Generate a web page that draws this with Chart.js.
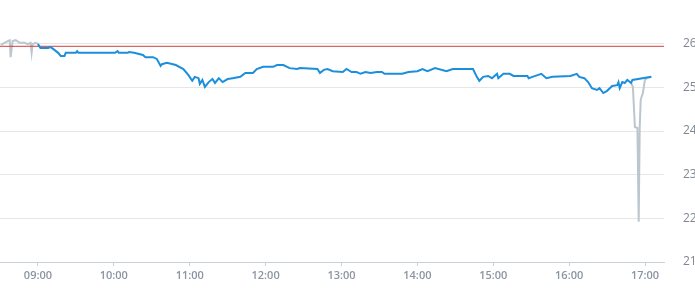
<!DOCTYPE html>
<html>
<head>
<meta charset="utf-8">
<script src="https://cdn.jsdelivr.net/npm/chart.js@4/dist/chart.umd.min.js"></script>
<style>
    body { margin: 0; background: #fff; }
    #wrap { width: 695px; height: 300px; }
</style>
</head>
<body>
<div id="wrap"><canvas id="priceChart"></canvas></div>
<script>
// intraday price (main session)
const priceTimes = ["09:00", "09:02", "09:08", "09:10", "09:12", "09:16", "09:18", "09:21", "09:22", "09:30",
    "09:31", "09:32", "10:01", "10:03", "10:04", "10:11", "10:12", "10:16", "10:23", "10:25",
    "10:31", "10:34", "10:37", "10:38", "10:42", "10:49", "10:55", "10:59", "11:02", "11:04",
    "11:07", "11:08", "11:10", "11:12", "11:15", "11:18", "11:20", "11:23", "11:26", "11:30",
    "11:34", "11:40", "11:44", "11:50", "11:53", "11:58", "12:06", "12:09", "12:14", "12:19",
    "12:25", "12:27", "12:41", "12:43", "12:46", "12:49", "12:53", "13:01", "13:04", "13:08",
    "13:12", "13:15", "13:19", "13:23", "13:28", "13:32", "13:34", "13:48", "13:53", "14:00",
    "14:04", "14:08", "14:14", "14:23", "14:28", "14:44", "14:47", "14:49", "14:52", "14:56",
    "14:59", "15:03", "15:04", "15:08", "15:13", "15:16", "15:27", "15:28", "15:31", "15:38",
    "15:42", "15:47", "16:01", "16:06", "16:08", "16:12", "16:15", "16:18", "16:22", "16:24",
    "16:27", "16:30", "16:34", "16:38", "16:39", "16:40", "16:42", "16:44", "16:46", "16:49",
    "16:50", "16:58", "17:05"];
const priceValues = [25.99, 25.90, 25.90, 25.92, 25.88, 25.79, 25.72, 25.72, 25.79, 25.79,
    25.83, 25.79, 25.79, 25.83, 25.79, 25.79, 25.81, 25.79, 25.74, 25.69,
    25.69, 25.65, 25.49, 25.53, 25.56, 25.51, 25.42, 25.28, 25.15, 25.24,
    25.21, 25.08, 25.17, 25.01, 25.12, 25.19, 25.10, 25.21, 25.12, 25.19,
    25.21, 25.24, 25.33, 25.33, 25.42, 25.47, 25.47, 25.51, 25.51, 25.44,
    25.42, 25.44, 25.42, 25.33, 25.40, 25.42, 25.37, 25.35, 25.42, 25.35,
    25.35, 25.31, 25.35, 25.33, 25.35, 25.35, 25.31, 25.31, 25.35, 25.37,
    25.42, 25.37, 25.44, 25.37, 25.42, 25.42, 25.24, 25.15, 25.24, 25.26,
    25.21, 25.31, 25.21, 25.31, 25.31, 25.26, 25.26, 25.21, 25.24, 25.31,
    25.21, 25.24, 25.26, 25.31, 25.24, 25.21, 25.12, 24.98, 24.94, 24.98,
    24.87, 24.92, 25.03, 25.05, 25.12, 24.98, 25.12, 25.10, 25.17, 25.10,
    25.17, 25.21, 25.24];

// pre-market and closing auction (grey)
const preTimes = ["08:30:36", "08:33:42", "08:36:06", "08:37:42", "08:38:24", "08:40:00", "08:42:24", "08:45:36",
    "08:49:30", "08:51:54", "08:54:12", "08:55:00", "08:55:48", "08:58:12", "09:00:36"];
const preValues = [25.97, 26.02, 26.06, 26.08, 25.69, 26.06, 26.08, 26.02,
    26.02, 25.99, 26.02, 25.79, 25.99, 26.02, 25.99];
const postTimes = ["16:49:00", "16:50:24", "16:52:00", "16:54:00", "16:55:00", "16:55:48", "16:56:36", "16:58:18",
    "16:59:54", "17:01:30", "17:05:00"];
const postValues = [25.10, 25.01, 24.09, 24.07, 21.92, 24.09, 24.72, 24.87,
    25.17, 25.21, 25.24];

const prevClose = 25.94;
const hourLabels = ["09:00", "10:00", "11:00", "12:00", "13:00", "14:00", "15:00", "16:00", "17:00"];
const yTicks = [21, 22, 23, 24, 25, 26];
const xStart = "08:30";
const xEnd = "17:15";

function toMinutes(t) {
    const parts = t.split(":").map(Number);
    return parts[0] * 60 + parts[1] + (parts[2] || 0) / 60;
}

function toPoints(times, values) {
    return times.map((t, i) => ({ x: toMinutes(t), y: values[i] }));
}

function formatMinutes(m) {
    const h = Math.floor(m / 60);
    const mm = Math.round(m % 60);
    return `${String(h).padStart(2, "0")}:${String(mm).padStart(2, "0")}`;
}

const labelColor = "#8a95a1";

const ctx = document.getElementById("priceChart").getContext("2d");
new Chart(ctx, {
    type: "line",
    data: {
        datasets: [
            {
                label: "Price",
                data: toPoints(priceTimes, priceValues),
                borderColor: "#1c8fdc",
                borderWidth: 2,
                pointRadius: 0,
                tension: 0,
                order: 0,
            },
            {
                label: "Previous close",
                data: [{ x: toMinutes(xStart), y: prevClose }, { x: toMinutes(xEnd), y: prevClose }],
                borderColor: "#d23c3c",
                borderWidth: 1,
                pointRadius: 0,
                order: 1,
            },
            {
                label: "Pre-market",
                data: toPoints(preTimes, preValues),
                borderColor: "#bcc6cf",
                borderWidth: 2,
                pointRadius: 0,
                tension: 0,
                order: 2,
            },
            {
                label: "Closing",
                data: toPoints(postTimes, postValues),
                borderColor: "#bcc6cf",
                borderWidth: 2,
                pointRadius: 0,
                tension: 0,
                order: 2,
            },
        ],
    },
    options: {
        responsive: true,
        maintainAspectRatio: false,
        animation: false,
        layout: { padding: 0 },
        plugins: {
            legend: { display: false },
            tooltip: { enabled: false },
        },
        scales: {
            x: {
                type: "linear",
                min: toMinutes(xStart),
                max: toMinutes(xEnd),
                afterBuildTicks: (axis) => {
                    axis.ticks = hourLabels.map((l) => ({ value: toMinutes(l) }));
                },
                afterFit: (axis) => {
                    axis.height = 38;
                    axis.paddingLeft = 0;
                    axis.paddingRight = 0;
                },
                grid: {
                    drawOnChartArea: false,
                    drawTicks: true,
                    tickLength: 4,
                    color: "#c9d0d8",
                },
                border: { color: "#c9d0d8" },
                ticks: {
                    padding: 3,
                    maxRotation: 0,
                    color: labelColor,
                    font: { family: "'Open Sans'", size: 11, weight: 600 },
                    callback: (value) => formatMinutes(value),
                },
            },
            y: {
                position: "right",
                min: 21,
                max: 27,
                afterBuildTicks: (axis) => {
                    axis.ticks = yTicks.map((v) => ({ value: v }));
                },
                afterFit: (axis) => {
                    axis.width = 31;
                    axis.paddingTop = 0;
                    axis.paddingBottom = 0;
                },
                grid: {
                    color: "#e6e6e6",
                    drawTicks: false,
                },
                border: { display: false },
                ticks: {
                    padding: 19,
                    color: "#7f8790",
                    font: { family: "'Open Sans'", size: 12 },
                },
            },
        },
    },
});
</script>
</body>
</html>
